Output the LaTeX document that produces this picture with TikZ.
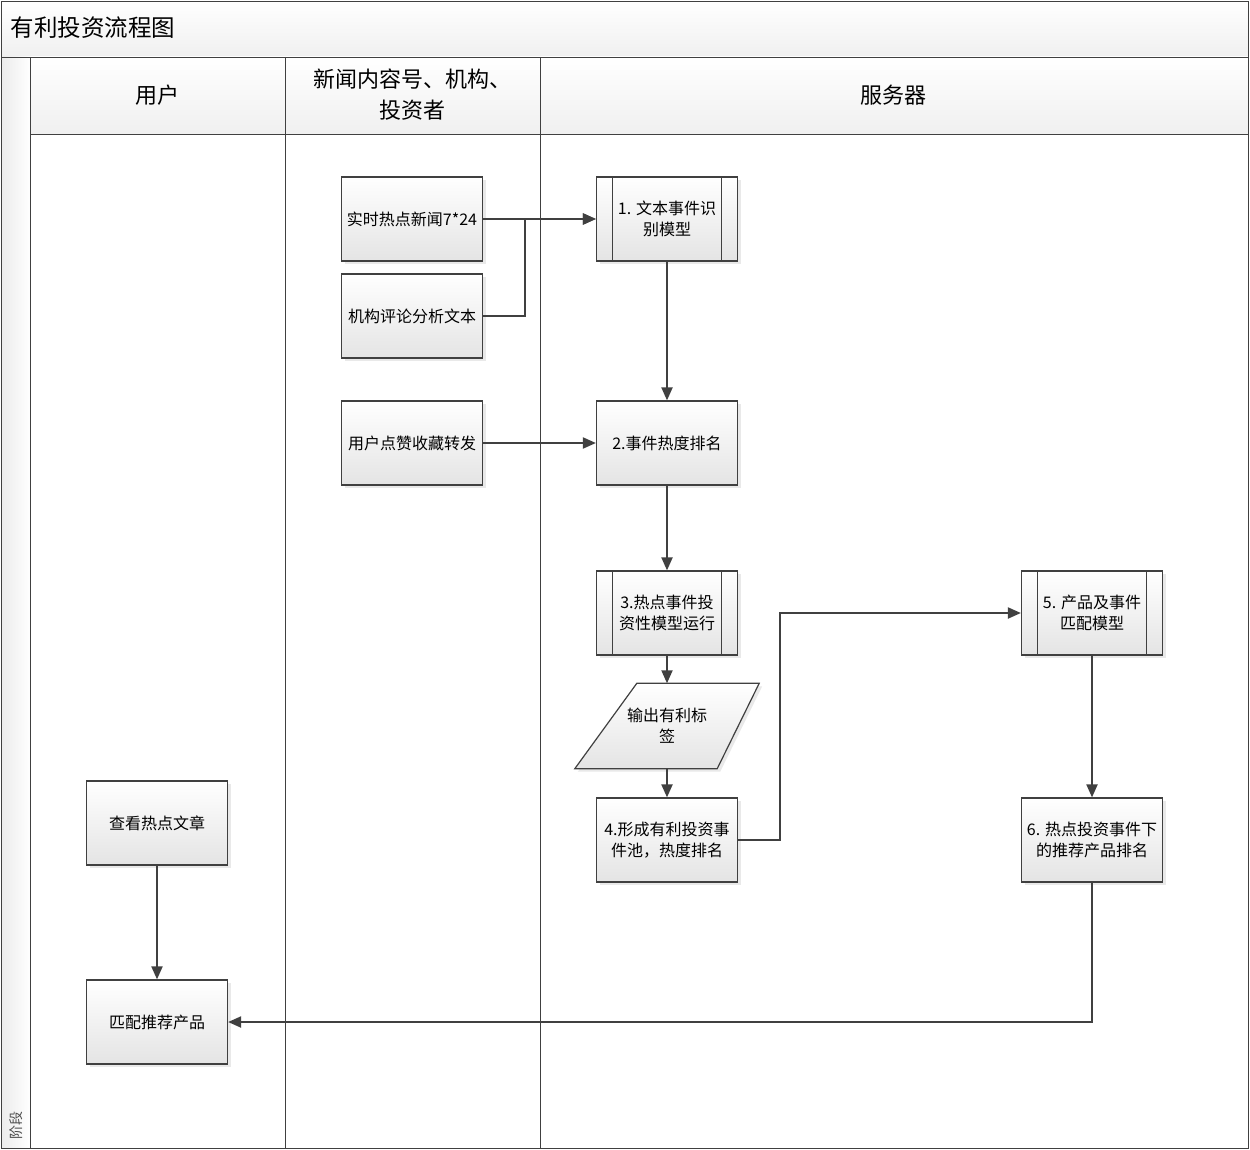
\documentclass[tikz,border=0pt]{standalone}
\usepackage{fontspec}
\setmainfont{Noto Sans CJK SC}
\usetikzlibrary{shadows,calc,arrows.meta}
\definecolor{linec}{HTML}{404040}
\definecolor{boxg}{HTML}{E4E4E4}
\begin{document}
\begin{tikzpicture}[x=1pt,y=-1pt,
  box/.style={draw=linec, line width=1.2pt, top color=white, bottom color=boxg,
    minimum width=141pt, minimum height=84pt, align=center, inner sep=2pt,
    font=\fontsize{16}{21}\selectfont,
    drop shadow={shadow xshift=3pt, shadow yshift=-3pt, fill=gray!50, opacity=0.35}},
  proc/.style={box, path picture={
    \draw[linec, line width=1.2pt] ([xshift=16pt]path picture bounding box.north west) -- ([xshift=16pt]path picture bounding box.south west);
    \draw[linec, line width=1.2pt] ([xshift=-16pt]path picture bounding box.north east) -- ([xshift=-16pt]path picture bounding box.south east);}},
  conn/.style={draw=linec, line width=2pt, -{Triangle[length=13pt,width=11pt]}},
  lane/.style={draw=linec, line width=0.9pt},
  hdr/.style={align=center, font=\fontsize{22}{31}\selectfont}
]
\useasboundingbox (0,0) rectangle (1250,1150);
% bands
\fill[top color=white, bottom color=gray!12] (1,1) rectangle (1248,57);
\fill[top color=white, bottom color=gray!12] (30,57) rectangle (1248,134);
\fill[left color=gray!15, right color=white] (1,57) rectangle (30,1148);
% lines
\draw[lane] (1,1) rectangle (1248,1148);
\draw[lane] (1,57) -- (1248,57);
\draw[lane] (30,57) -- (30,1148);
\draw[lane] (30,134) -- (1248,134);
\draw[lane] (285,57) -- (285,1148);
\draw[lane] (540,57) -- (540,1148);
% texts
\node[anchor=west, font=\fontsize{23.5}{26}\selectfont] (title) at (7,28) {有利投资流程图};
\node[rotate=90, font=\fontsize{14}{16}\selectfont, text=gray!60!black] (stage) at (16,1125) {阶段};
\node[hdr] (h1) at (157,95) {用户};
\node[hdr] (h2) at (412,95) {新闻内容号、机构、\\投资者};
\node[hdr] (h3) at (893,95) {服务器};
% nodes
\node[box] (news) at (412,219) {实时热点新闻7*24};
\node[box] (inst) at (412,316) {机构评论分析文本};
\node[box] (like) at (412,443) {用户点赞收藏转发};
\node[proc] (m1) at (667,219) {1. 文本事件识\\别模型};
\node[box] (m2) at (667,443) {2.事件热度排名};
\node[proc] (m3) at (667,613) {3.热点事件投\\资性模型运行};
\node[minimum width=142pt, minimum height=85pt, align=center, font=\fontsize{16}{21}\selectfont] (out) at (667,726) {输出有利标\\签};
\node[box] (m4) at (667,840) {4.形成有利投资事\\件池，热度排名};
\node[proc] (m5) at (1092,613) {5. 产品及事件\\匹配模型};
\node[box] (m6) at (1092,840) {6. 热点投资事件下\\的推荐产品排名};
\node[box] (view) at (157,823) {查看热点文章};
\node[box] (rec) at (157,1022) {匹配推荐产品};
% parallelogram
\fill[gray!50, opacity=0.35] ($(out.north west)+(44,3)$) -- ($(out.north east)+(24,3)$) -- ($(out.south east)+(-18,3)$) -- ($(out.south west)+(-18,3)$) -- cycle;
\draw[draw=linec, line width=1.2pt, top color=white, bottom color=boxg]
  ($(out.north west)+(41,0)$) -- ($(out.north east)+(21,0)$) -- ($(out.south east)+(-21,0)$) -- ($(out.south west)+(-21,0)$) -- cycle;
\node[align=center, font=\fontsize{16}{21}\selectfont] at (out) {输出有利标\\签};
% connectors
\draw[conn] (news) -- (m1);
\draw[conn] (inst.east) -- ++(42,0) |- (m1.west);
\draw[conn] (like) -- (m2);
\draw[conn] (m1) -- (m2);
\draw[conn] (m2) -- (m3);
\draw[conn] (m3) -- (out);
\draw[conn] (out) -- (m4);
\draw[conn] (m4.east) -- ++(42,0) |- (m5.west);
\draw[conn] (m5) -- (m6);
\draw[conn] (m6.south) |- (rec.east);
\draw[conn] (view) -- (rec);
\end{tikzpicture}
\end{document}
